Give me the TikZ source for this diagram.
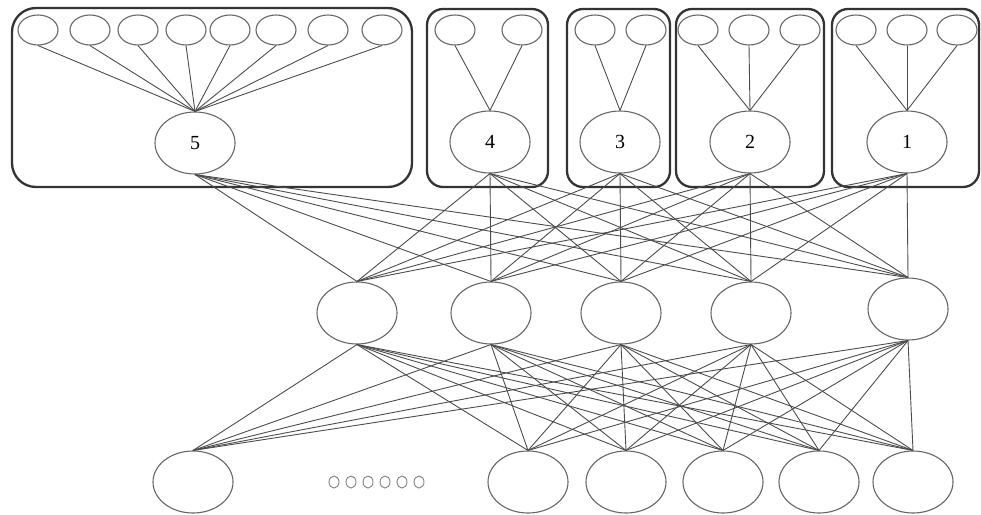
\documentclass[tikz,border=0pt]{standalone}
\usepackage{fontspec}
\setmainfont{Liberation Serif}
\usetikzlibrary{shapes.geometric,positioning}

\tikzset{
  groupbox/.style={draw=black!80, line width=2.3pt, rounded corners=16pt},
  leaf/.style={draw=black!60, line width=1.1pt, ellipse, inner sep=0pt, minimum width=40pt, minimum height=30pt},
  unit/.style={draw=black!60, line width=1.1pt, ellipse, inner sep=0pt, minimum width=80pt, minimum height=62pt},
  dot/.style={draw=black!50, line width=0.9pt, ellipse, inner sep=0pt, minimum width=10pt, minimum height=12pt},
  link/.style={draw=black!70, line width=0.9pt}
}

\begin{document}
\begin{tikzpicture}[x=1pt,y=-1pt]
				\useasboundingbox (0,0) rectangle (981,514);
				\fontsize{20}{22}\selectfont
				% group boxes
				\draw[groupbox, rounded corners=24pt] (12,8) rectangle (412,187);
				\draw[groupbox] (427,9) rectangle (548,187);
				\draw[groupbox] (567,9) rectangle (670,187);
				\draw[groupbox] (676,9) rectangle (824,187);
				\draw[groupbox] (832,9) rectangle (979,187);
				
				% group units
				\node (g5) at (195,143) [unit] {5};
				\node (g4) at (490,142) [unit] {4};
				\node (g3) at (620,142) [unit] {3};
				\node (g2) at (750,142) [unit] {2};
				\node (g1) at (907,142) [unit] {1};
				
				% leaves inside the boxes
				\foreach \x [count=\i] in {38,90,138,186,230,276,328,382} {
					\node (lf5\i) at (\x,30) [leaf] {};
					\draw[link] (lf5\i.south) -- (g5.north);
				}
				\foreach \x [count=\i] in {455,522} {
					\node (lf4\i) at (\x,30) [leaf] {};
					\draw[link] (lf4\i.south) -- (g4.north);
				}
				\foreach \x [count=\i] in {595,646} {
					\node (lf3\i) at (\x,30) [leaf] {};
					\draw[link] (lf3\i.south) -- (g3.north);
				}
				\foreach \x [count=\i] in {698,749,800} {
					\node (lf2\i) at (\x,30) [leaf] {};
					\draw[link] (lf2\i.south) -- (g2.north);
				}
				\foreach \x [count=\i] in {856,907,957} {
					\node (lf1\i) at (\x,30) [leaf] {};
					\draw[link] (lf1\i.south) -- (g1.north);
				}
				
				% middle layer
				\foreach \x/\y [count=\i] in {357/313,491/313,621/313,751/313,908/309}
					\node (mid\i) at (\x,\y) [unit] {};
				
				% bottom layer
				\foreach \x [count=\i] in {193,528,626,723,819,913}
					\node (bot\i) at (\x,482) [unit] {};
				\foreach \x [count=\i] in {334,351,368,385,402,419}
					\node (dot\i) at (\x,482) [dot] {};
				
				% full connections
				\foreach \g in {1,...,5}
					\foreach \m in {1,...,5}
						\draw[link] (g\g.south) -- (mid\m.north);
				\foreach \m in {1,...,5}
					\foreach \b in {1,...,6}
						\draw[link] (mid\m.south) -- (bot\b.north);
			\end{tikzpicture}
\end{document}
